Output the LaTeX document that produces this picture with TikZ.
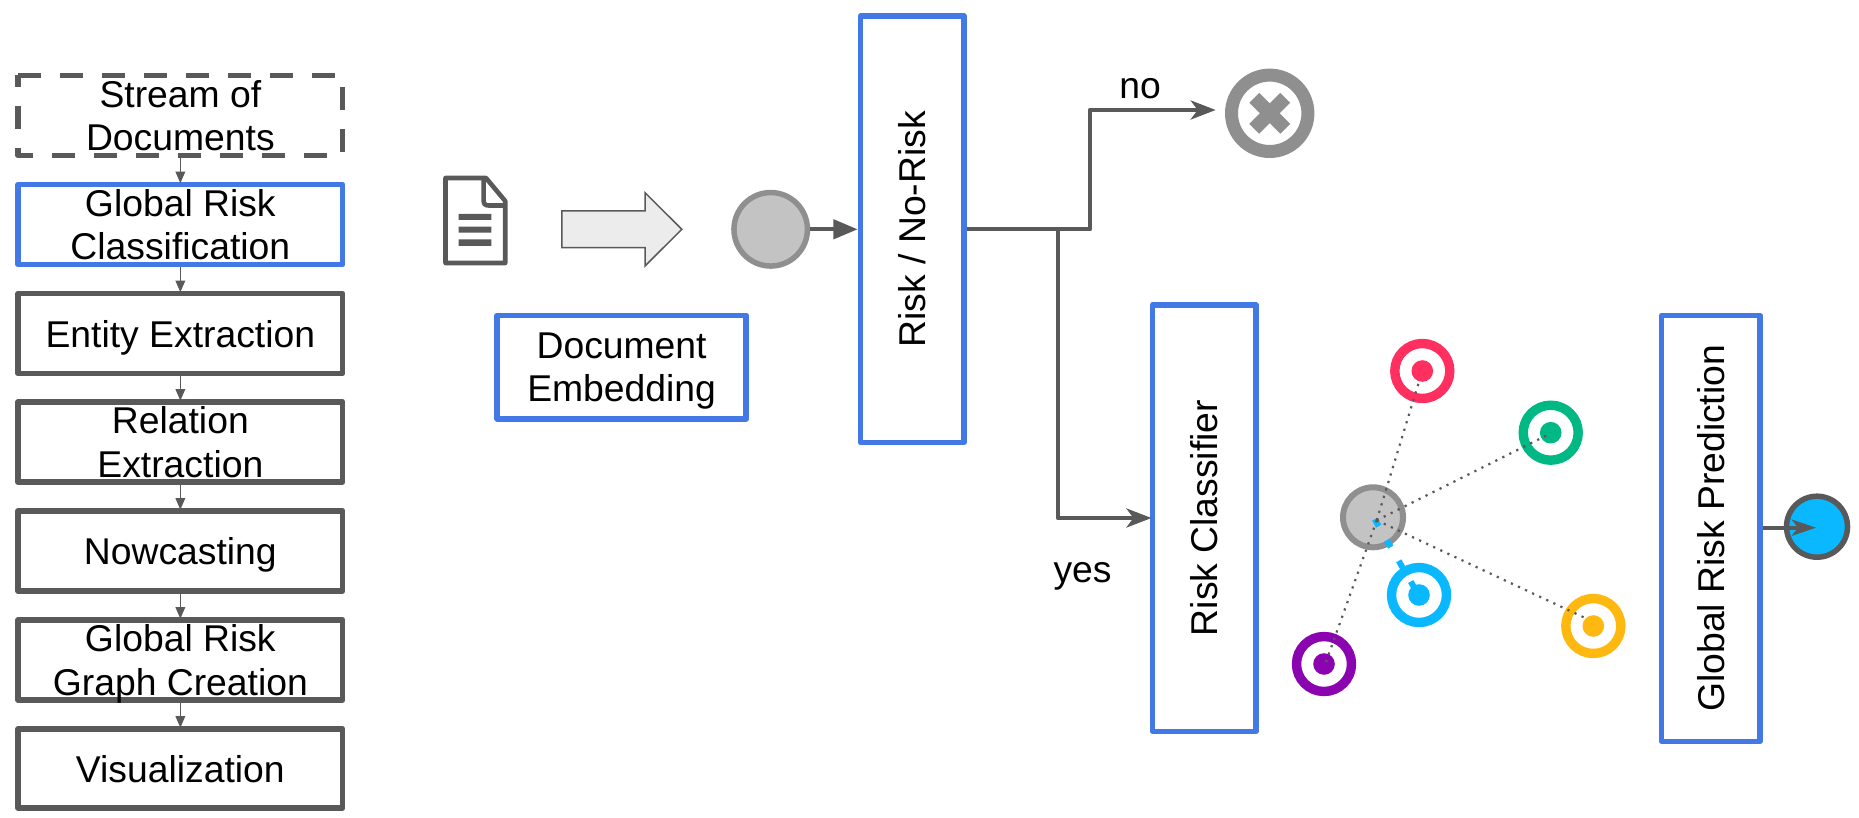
\documentclass[tikz,border=0pt]{standalone}
\usepackage{fontspec}
\setmainfont{Liberation Sans}
\usetikzlibrary{arrows.meta,calc}
\definecolor{ink}{HTML}{595959}
\definecolor{bluebox}{HTML}{4279E6}
\definecolor{midgray}{HTML}{8F8F8F}
\definecolor{lightgray2}{HTML}{C3C3C3}
\definecolor{pale}{HTML}{ECECEC}
\definecolor{tred}{HTML}{FF305F}
\definecolor{tgreen}{HTML}{00B884}
\definecolor{tblue}{HTML}{0AB8FF}
\definecolor{tyellow}{HTML}{FFB810}
\definecolor{tpurple}{HTML}{8A05B0}
\tikzset{
  lbl/.style={font=\fontsize{37.3}{43.6}\selectfont,align=center,inner sep=0pt,text depth=0pt},
  twoline/.style={text depth=-2pt},
  bx/.style={lbl,draw,line width=5.5pt,line join=round,fill=white,minimum width=324.7pt},
  inkbox/.style={bx,draw=ink},
  bluebx/.style={bx,draw=bluebox},
  vbox/.style={lbl,draw=bluebox,line width=5.5pt,line join=round,fill=white,rotate=90},
  small/.style={draw=ink,line width=1.7pt,-{Triangle[length=11.7pt,width=9.6pt]},shorten >=-1.5pt},
  conn/.style={draw=ink,line width=4.2pt,line join=round,-{Stealth[length=25pt,width=19pt,inset=7pt]}},
  dot/.style={draw=ink,line width=2.2pt,dash pattern=on 2.2pt off 5.6pt},
  target/.style={circle,inner sep=0pt,minimum size=55pt,line width=9.4pt,fill=white},
  core/.style={circle,inner sep=0pt,minimum size=21.6pt},
  tick/.style={fill=tblue,inner sep=0pt,minimum width=8pt,minimum height=6pt,rotate=-60},
  x=1pt,y=-1pt
}
\begin{document}
\begin{tikzpicture}
\useasboundingbox (0,0) rectangle (1859,818);
% dashed top box
\coordinate (dtl) at (18,75.5);
\coordinate (dbr) at (342.7,155.5);
\draw[ink,line width=5.5pt,line join=round,dash pattern=on 23.3pt off 18.7pt]
  (dtl) -- (dtl-|dbr) -- (dbr) -- (dbr-|dtl) -- cycle;
\node[lbl,twoline,minimum width=330.2pt,minimum height=85.5pt] (stream) at (180.35,115.5) {Stream of\\Documents};
\node[bluebx,twoline,minimum height=80pt] (grc) at (180.35,224.5) {Global Risk\\Classification};
\node[inkbox,minimum height=80pt] (ee) at (180.35,333.5) {Entity Extraction};
\node[inkbox,twoline,minimum height=80pt] (re) at (180.35,442) {Relation\\Extraction};
\node[inkbox,minimum height=80pt] (now) at (180.35,551) {Nowcasting};
\node[inkbox,twoline,minimum height=80pt] (graph) at (180.35,660) {Global Risk\\Graph Creation};
\node[inkbox,minimum height=79pt] (vis) at (180.35,768.5) {Visualization};
\foreach \a/\b in {stream/grc,grc/ee,ee/re,re/now,now/graph,graph/vis}
  \draw[small] (\a.south) -- (\b.north);
% document icon
\draw[ink,line width=4.6pt,line join=round,fill=white]
  (445.5,178) -- (486,178) -- (505.2,201) -- (505.2,263) -- (445.5,263) -- cycle;
\draw[ink,line width=4.6pt,line join=round]
  (483.6,178) -- (483.6,200) .. controls (483.6,204) and (485,205.5) .. (489,205.5) -- (505.2,205.5);
\fill[ink] (458.6,214) rectangle (491.4,220) (458.6,226.7) rectangle (491.4,232.7) (458.6,239.5) rectangle (491.4,245.8);
% block arrow
\draw[ink,line width=1.5pt,fill=pale,line join=miter]
  (561.8,211) -- (645,211) -- (645,192.7) -- (681.8,229.3) -- (645,266) -- (645,247.7) -- (561.8,247.7) -- cycle;
% embedding
\node[bluebx,twoline,minimum width=248.9pt,minimum height=103.5pt] (emb) at (621.6,367) {Document\\Embedding};
% gray input circle
\node[circle,draw=midgray,fill=lightgray2,line width=5.5pt,minimum size=73.5pt,inner sep=0pt] (inp) at (770.7,229.3) {};
% risk box
\node[vbox,minimum width=426.3pt,minimum height=103.6pt] (risk) at (912.3,229.3) {Risk / No-Risk};
\draw[draw=ink,line width=4.2pt,-{Triangle[length=24.3pt,width=19pt]}] (inp.east) -- (risk.north);
% reject
\node[circle,draw=midgray,line width=13pt,minimum size=76.4pt,inner sep=0pt] (rej) at (1269.7,113.3) {};
\draw[midgray,line width=14pt,line join=round] ($(rej)+(-15.5,-15.5)$) -- ($(rej)+(15.5,15.5)$) ($(rej)+(-15.5,15.5)$) -- ($(rej)+(15.5,-15.5)$);
\coordinate (j1) at (1090,229.3);
\coordinate (j2) at (1058,229.3);
\coordinate (notip) at (1215.7,110);
\draw[conn] (risk.south) -- (j1) |- (notip);
\node[lbl,anchor=base] (no) at (1140,98.8) {no};
% risk classifier
\node[vbox,minimum width=426.5pt,minimum height=103.3pt] (rc) at (1204.35,518) {Risk Classifier};
\draw[conn,shorten >=-1.5pt] (j2) |- (rc.north);
\node[lbl,anchor=base] (yes) at (1082.6,582) {yes};
% targets
\node[circle,draw=midgray,fill=lightgray2,line width=6pt,minimum size=60pt,inner sep=0pt] (hubc) at (1373,517.3) {};
\node[target,draw=tred] (tr) at (1422.3,371) {};
\node[core,fill=tred] (trc) at (1422.3,371) {};
\node[target,draw=tgreen] (tg) at (1550.7,432.7) {};
\node[core,fill=tgreen] (tgc) at (1550.7,432.7) {};
\node[target,draw=tblue] (tb) at (1419,595) {};
\node[core,fill=tblue] (tbc) at (1419,595) {};
\node[target,draw=tyellow] (ty) at (1593.3,626) {};
\node[core,fill=tyellow] (tyc) at (1593.3,626) {};
\node[target,draw=tpurple] (tp) at (1324,664) {};
\node[core,fill=tpurple] (tpc) at (1324,664) {};
% blue ticks
\node[tick] (b0) at (1376.7,522.7) {};
\node[tick] (b1) at (1388.7,543.7) {};
\node[tick] (b2) at (1400.7,564.3) {};
\node[tick] (b3) at (1412.7,585) {};
% dotted
\coordinate (hub) at (1376.7,520.3);
\coordinate (er) at (1419,381.7);
\coordinate (eg) at (1550,433.7);
\coordinate (ey) at (1588,619.3);
\coordinate (ep) at (1325.7,662.7);
\foreach \e in {er,eg,ey,ep} \draw[dot] (hub) -- (\e);
% prediction
\node[vbox,minimum width=426pt,minimum height=98.3pt] (grp) at (1710.85,528.3) {Global Risk Prediction};
\node[circle,draw=ink,fill=tblue,line width=5.5pt,minimum size=61pt,inner sep=0pt] (out) at (1817,526.7) {};
\coordinate (outtip) at (1816,527.7);
\draw[draw=ink,line width=4.2pt,-{Stealth[length=24pt,width=16pt,inset=6pt]}] (grp.south|-outtip) -- (outtip);
\end{tikzpicture}
\end{document}
